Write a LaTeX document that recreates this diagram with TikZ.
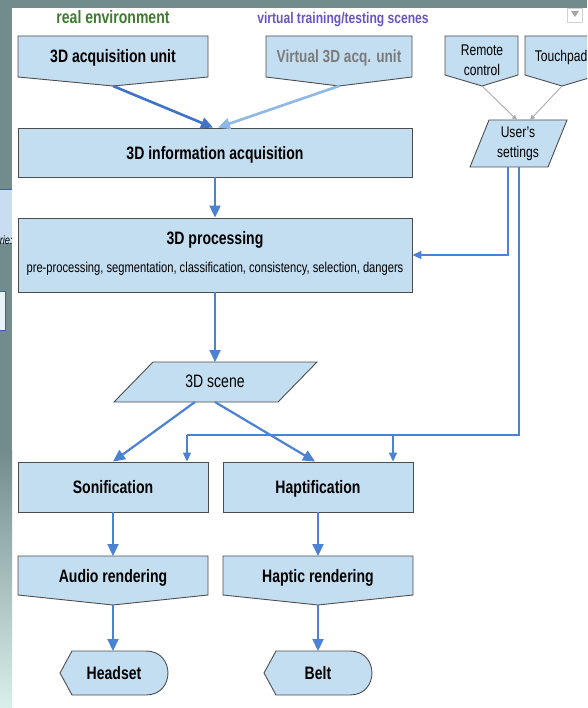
\documentclass[tikz,border=0pt]{standalone}
\usepackage{fontspec}
\setmainfont{Liberation Sans}[FakeStretch=0.78]
\usetikzlibrary{arrows.meta,calc}
\definecolor{boxfill}{HTML}{C4DEF1}
\definecolor{boxline}{HTML}{4D4D4D}
\definecolor{arrblue}{HTML}{4C82D2}
\definecolor{darkblue}{HTML}{3E73C6}
\definecolor{lightblue}{HTML}{8DB8E8}
\definecolor{envgreen}{HTML}{3E7B2E}
\definecolor{virtpurple}{HTML}{6A56C0}
\definecolor{greytext}{HTML}{7B7B7B}
\definecolor{bgtop}{HTML}{728C8E}
\definecolor{bgbot}{HTML}{D8F0EB}
\definecolor{uiblue}{HTML}{3B5FC0}
\definecolor{uifill}{HTML}{C9DDF0}
\tikzset{
  box/.style={draw=boxline, fill=boxfill, line width=0.9pt},
  rectbox/.style={box, inner sep=0pt},
  lbl/.style={font=\fontsize{18}{20}\selectfont\bfseries, inner sep=0pt, text height=13pt, text depth=4pt},
  sml/.style={font=\fontsize{15.5}{20}\selectfont, inner sep=0pt, align=center},
  arr/.style={draw=arrblue, line width=2.2pt, -{Triangle[length=12pt,width=11pt]}},
  setline/.style={draw=arrblue, line width=1.6pt},
  setarr/.style={setline, -{Triangle[length=9pt,width=8pt]}},
  greyarr/.style={draw=gray!65, line width=0.9pt, -{Triangle[length=5pt,width=4.5pt]}}
}
\begin{document}
\begin{tikzpicture}[x=1pt,y=-1pt]
\useasboundingbox (0,0) rectangle (587,708);
\clip (0,0) rectangle (587,708);
% background of the screenshot
\fill[white] (0,0) rectangle (587,708);
\fill[bgtop] (0,0) rectangle (587,8);
\fill[bgtop] (0,0) rectangle (12,450);
\shade[top color=bgtop, bottom color=bgbot] (0,450) rectangle (12,708);
\fill[uifill] (0,190) rectangle (12,243);
\draw[uiblue, line width=1pt] (0,190) -- (12,190);
\begin{scope}
  \clip (0,190) rectangle (12,246);
  \node[anchor=east, inner sep=0pt, font=\fontsize{12}{14}\selectfont\itshape] (uitext) at (13,240) {rie:};
\end{scope}
\draw[uiblue, fill=uifill!40, line width=1pt] (-3,291) rectangle (5,330);
\draw[gray!35, fill=white] (567,8) rectangle (582,22);
\fill[gray!70] (571,11) -- (579,11) -- (575,17) -- cycle;

% headings
\node[lbl, text=envgreen] (hreal) at (113,19.5) {real environment};
\node[font=\fontsize{15.5}{17}\selectfont\bfseries, inner sep=0pt, text height=11pt, text depth=3.5pt, text=virtpurple] (hvirt) at (343,19.5) {virtual training/testing scenes};

% top input boxes
\path[box] (18,36) -- (208,36) -- (208,77) -- (113,86) -- (18,77) -- cycle;
\node[lbl] (acq) at (113,58) {3D acquisition unit};
\coordinate (acqP) at (113,86);
\path[box] (266,36) -- (412,36) -- (412,77) -- (339,86) -- (266,77) -- cycle;
\node[lbl, font=\fontsize{17.5}{20}\selectfont\bfseries, text=greytext] (virt) at (339,58) {Virtual 3D acq. unit};
\coordinate (virtP) at (339,86);
\path[box] (445,36) -- (518,36) -- (518,75) -- (482,86) -- (445,75) -- cycle;
\node[sml] (rem) at (482,60) {Remote\\control};
\coordinate (remP) at (482,86);
\path[box] (525,36) -- (599,36) -- (599,75) -- (562,86) -- (525,75) -- cycle;
\node[sml, text height=11pt, text depth=3.5pt] (touch) at (561,58) {Touchpad};
\coordinate (touchP) at (562,86);

% user's settings
\path[box] (489,120) -- (567,120) -- (548,167) -- (470,167) -- cycle;
\node[sml] (set) at (518,144) {User's\\settings};
\coordinate (setIn1) at (517,120);
\coordinate (setIn2) at (530,120);
\coordinate (setA) at (508,167);
\coordinate (setB) at (519,167);

% main chain
\node[rectbox, minimum width=394pt, minimum height=49pt] (info) at (215,152.5) {};
\node[lbl] (infot) at (215,155) {3D information acquisition};
\node[rectbox, minimum width=394pt, minimum height=74pt] (proc) at (215,255) {};
\node[lbl] (proct) at (215,240) {3D processing};
\node[font=\fontsize{14.3}{16}\selectfont, inner sep=0pt, text height=10.5pt, text depth=3pt] (procs) at (215,268.5) {pre-processing, segmentation, classification, consistency, selection, dangers};

\path[box] (153,362) -- (317,362) -- (278,402) -- (114,402) -- cycle;
\node[lbl, font=\fontsize{18}{20}\selectfont] (scene) at (215,383) {3D scene};
\coordinate (sceneT) at (215,362);
\coordinate (sceneB1) at (195,402);
\coordinate (sceneB2) at (215,402);

\node[rectbox, minimum width=190pt, minimum height=50pt] (son) at (113,487) {};
\node[lbl] (sont) at (113,489) {Sonification};
\node[rectbox, minimum width=190pt, minimum height=50pt] (hap) at (318,487) {};
\node[lbl] (hapt) at (318,489) {Haptification};

\path[box] (18,556) -- (208,556) -- (208,595) -- (113,605) -- (18,595) -- cycle;
\node[lbl] (aud) at (113,578) {Audio rendering};
\coordinate (audT) at (113,556);
\coordinate (audP) at (113,605);
\path[box] (223,556) -- (413,556) -- (413,595) -- (318,605) -- (223,595) -- cycle;
\node[lbl] (hren) at (318,578) {Haptic rendering};
\coordinate (hrenT) at (318,556);
\coordinate (hrenP) at (318,605);

\path[box] (60,673) -- (72,651) -- (146,651) .. controls (175.3,651) and (175.3,695) .. (146,695) -- (72,695) -- cycle;
\node[lbl] (head) at (114,675) {Headset};
\coordinate (headT) at (113,651);
\path[box] (264,673) -- (276,651) -- (350,651) .. controls (379.3,651) and (379.3,695) .. (350,695) -- (276,695) -- cycle;
\node[lbl] (belt) at (318,675) {Belt};
\coordinate (beltT) at (318,651);

% connectors
\draw[arr, draw=darkblue, line width=2.6pt] (acqP) -- ($(info.north)+(-2,0)$);
\draw[arr, draw=lightblue, line width=2.6pt] (virtP) -- ($(info.north)+(3,0)$);
\draw[greyarr] (remP) -- (setIn1);
\draw[greyarr] (touchP) -- (setIn2);
\draw[arr] (info.south) -- (proc.north);
\draw[arr] (proc.south) -- (sceneT);
\draw[arr] (sceneB1) -- (son.north);
\draw[arr] (sceneB2) -- ($(hap.north)+(-3,0)$);
\draw[arr] (son.south) -- (audT);
\draw[arr] (hap.south) -- (hrenT);
\draw[arr] (audP) -- (headT);
\draw[arr] (hrenP) -- (beltT);
\draw[setarr] (setA) |- (proc.east);
\coordinate (bus1) at (187,435);
\coordinate (bus2) at (393,435);
\draw[setline] (setB) |- (bus1);
\draw[setarr] (bus1) -- (bus1 |- son.north);
\draw[setarr] (bus2) -- (bus2 |- hap.north);
\end{tikzpicture}
\end{document}
